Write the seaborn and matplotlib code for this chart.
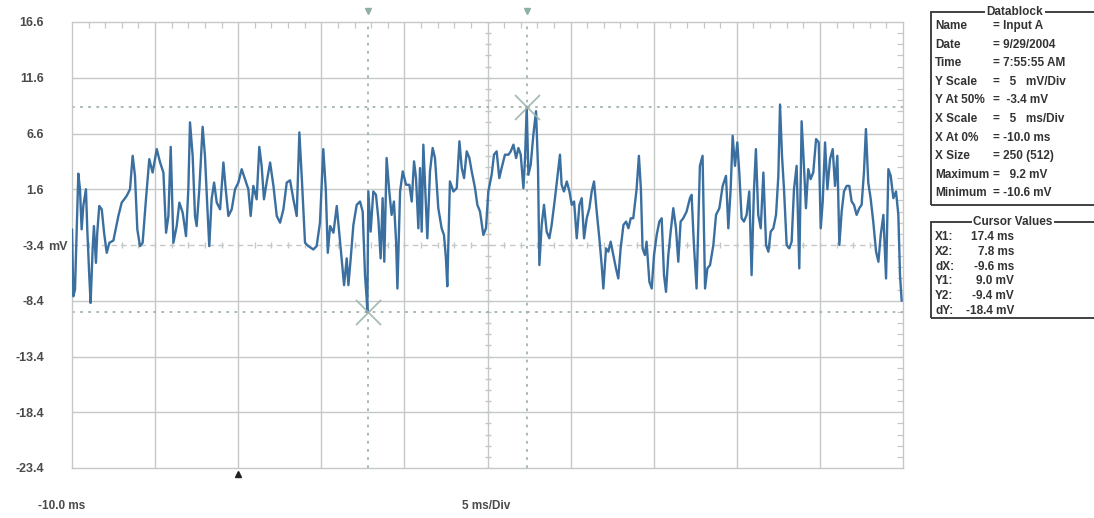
import matplotlib
matplotlib.use("Agg")
from matplotlib import pyplot as plt
from matplotlib.patches import Rectangle
import numpy as np
import pandas as pd
import seaborn as sns

# Datos (tiempo en ms, senal en mV)
time_ms = [
    -10.00, -9.92, -9.82, -9.62, -9.52, -9.42, -9.32, -9.16, -9.08, -8.96,
    -8.88, -8.76, -8.68, -8.56, -8.48, -8.36, -8.21, -8.07, -7.91, -7.75,
    -7.51, -7.21, -7.01, -6.71, -6.51, -6.35, -6.21, -6.07, -5.91, -5.75,
    -5.55, -5.35, -5.15, -4.90, -4.70, -4.50, -4.34, -4.20, -4.06, -3.90,
    -3.70, -3.54, -3.34, -3.14, -3.00, -2.90, -2.74, -2.60, -2.50, -2.34,
    -2.14, -2.00, -1.86, -1.74, -1.60, -1.45, -1.29, -1.09, -0.89, -0.75,
    -0.59, -0.39, -0.19, 0.01, 0.21, 0.41, 0.61, 0.75, 0.91, 1.11,
    1.27, 1.41, 1.55, 1.71, 1.92, 2.12, 2.32, 2.52, 2.72, 2.92,
    3.12, 3.32, 3.52, 3.68, 3.82, 4.02, 4.22, 4.52, 4.72, 4.92,
    5.12, 5.27, 5.39, 5.53, 5.73, 5.93,
    6.37, 6.53, 6.63, 6.77, 6.93, 7.13, 7.33, 7.49, 7.63, 7.73,
    7.77, 7.83, 7.97, 8.13, 8.29, 8.43, 8.57, 8.69, 8.79, 8.93,
    9.09, 9.23, 9.37, 9.50, 9.58, 9.74, 9.90, 10.10, 10.30, 10.44,
    10.58, 10.70, 10.84, 10.94, 11.04, 11.14, 11.26, 11.38, 11.54, 11.70,
    11.84, 12.04, 12.24, 12.38, 12.50, 12.58, 12.74, 12.95, 13.15, 13.31,
    13.45, 13.59, 13.75, 13.91, 14.05, 14.25, 14.39, 14.55, 14.75, 14.91,
    15.05, 15.25, 15.39, 15.55, 15.71, 15.85, 16.05, 16.26, 16.40, 16.56,
    16.72, 16.86, 17.00, 17.16, 17.26, 17.36, 17.46, 17.60, 17.76, 17.92,
    18.04, 18.12, 18.26, 18.40, 18.56, 18.72, 18.86, 19.06, 19.20, 19.36,
    19.46, 19.60, 19.77, 19.93, 20.07, 20.21, 20.37, 20.53, 20.67, 20.81,
    20.97, 21.13, 21.27, 21.41, 21.57, 21.73, 21.87, 21.97, 22.13, 22.27,
    22.41, 22.57, 22.73, 22.87, 23.01, 23.18, 23.34, 23.48, 23.62,
    23.77, 23.97, 24.11, 24.23, 24.33, 24.47, 24.57, 24.74, 24.88, 25.02,
    25.18, 25.34, 25.48, 25.62, 25.74, 25.88, 26.02, 26.18, 26.34, 26.48,
    26.62, 26.78, 26.98, 27.18, 27.28, 27.42, 27.58, 27.78, 27.94, 28.09,
    28.23, 28.39, 28.59, 28.75, 28.95, 29.15, 29.35, 29.49, 29.63, 29.75,
    29.89, 30.03, 30.15, 30.29, 30.43, 30.59, 30.75, 30.89, 31.03, 31.15,
    31.29, 31.44, 31.60, 31.76, 31.90, 32.04, 32.20, 32.36, 32.50, 32.60,
    32.72, 32.84, 33.00, 33.16, 33.30, 33.44, 33.60, 33.76, 33.90, 34.04,
    34.16, 34.30, 34.44, 34.60, 34.77, 34.93, 35.05, 35.17, 35.31, 35.45,
    35.61, 35.77, 35.91, 36.05, 36.17, 36.31, 36.45, 36.61, 36.77, 36.91,
    37.05, 37.21, 37.37, 37.51, 37.65, 37.77, 37.91, 38.05, 38.21, 38.38,
    38.52, 38.66, 38.82, 38.98, 39.12, 39.26, 39.42, 39.58, 39.72, 39.82,
    39.92,
]
signal_mv = [
    -2.0, -8.0, -7.4, 3.0, 1.6, -2.0, 0.1, 1.6, -2.0, -6.2,
    -8.6, -3.8, -1.7, -5.0, -2.3, 0.1, -0.2, -2.3, -4.1, -3.2,
    -3.0, -0.8, 0.4, 1.0, 1.6, 4.6, 2.8, -2.0, -3.5, -3.2,
    0.7, 4.3, 3.1, 5.2, 4.0, 3.1, -2.3, -0.8, 5.4, -3.2,
    -1.7, 0.4, -0.5, -2.6, 1.6, 7.6, 4.6, -0.8, -1.7, 1.6,
    7.2, 4.6, 0.1, -3.5, 0.7, 2.2, 0.4, -0.2, 4.0, 1.6,
    -0.8, -0.2, 1.6, 2.2, 3.4, 2.5, 1.6, -0.8, 1.9, 0.7,
    5.4, 3.7, 0.7, 2.2, 4.0, 1.9, -0.8, -1.4, -0.2, 2.2,
    2.4, 0.7, -0.8, 6.7, 2.8, -3.2, -3.5, -3.8, -3.5, -1.4,
    5.2, 1.6, -4.1, -1.7, -2.3, 0.1,
    -7.0, -4.6, -7.0, -4.6, -1.6, 0.2, 0.5, -0.4, -6.1, -8.2,
    -9.4, 1.4, -2.2, 1.4, 1.1, -1.0, -4.6, 0.8, -4.9, 4.4,
    1.4, -0.7, 0.5, -3.1, -7.3, 1.4, 3.2, 2.0, 2.0, 0.5,
    4.1, 2.6, -1.9, 3.5, -2.2, 5.6, 1.4, -2.8, 3.2, 5.3,
    4.4, -0.1, -1.9, -2.5, -4.6, -7.1, 2.3, 1.4, 1.7, 5.9,
    3.5, 2.6, 5.0, 4.4, 3.2, 1.7, 0.2, -0.4, -2.5, -1.9,
    1.4, 2.9, 4.7, 5.0, 2.6, 3.5, 4.7, 4.7, 5.0, 5.6,
    4.4, 5.3, 4.7, 1.7, 4.4, 9.0, 2.9, 3.8, 6.5, 8.6,
    3.5, -5.2, -1.6, 0.2, -2.2, -2.8, -1.6, 0.8, 2.6, 4.7,
    2.0, 1.4, 2.3, 1.4, 0.2, 0.5, -2.8, 0.2, 0.8, -2.8,
    -1.0, -0.1, 1.4, 2.3, -0.4, -2.8, -5.2, -7.3, -3.7, -4.0,
    -3.1, -4.3, -5.5, -6.4, -3.7, -1.6, -1.3, -1.9, -1.0,
    -1.0, 1.6, 4.6, 1.6, -3.7, -4.3, -3.1, -6.7, -7.3, -4.3,
    -2.5, -1.3, -1.0, -6.1, -7.6, -4.3, -2.2, -0.1, -1.9, -4.9,
    -1.3, -1.0, -0.4, 0.8, 1.1, -3.4, -7.3, 3.7, 4.6, -7.3,
    -5.5, -5.2, -3.4, -0.7, -0.1, 1.9, 2.8, -1.9, 1.6, 6.4,
    3.7, 5.8, 3.1, -1.0, -1.3, -0.7, 1.4, -6.1, 1.4, 5.2,
    -0.7, -1.9, 3.1, -3.4, -4.0, -2.2, -1.9, -0.7, 2.8, 9.2,
    4.6, 1.6, -3.4, -3.7, -3.1, 1.6, 3.7, -5.5, 7.7, 3.7,
    -0.1, 3.4, 2.5, 3.1, 6.1, 5.8, -1.9, 0.5, 5.8, 1.6,
    4.3, 5.2, 1.9, 4.6, -3.4, -0.4, 1.4, 1.9, 1.9, 0.5,
    0.2, -0.7, -0.1, 0.2, 3.1, 7.0, 2.2, 0.8, -1.3, -4.0,
    -4.9, -2.5, -0.7, -6.4, 3.4, 2.8, 0.8, 1.4, -0.7, -6.1,
    -8.4,
]

y_ticks = [16.6, 11.6, 6.6, 1.6, -3.4, -8.4, -13.4, -18.4, -23.4]
y_labels = ["16.6", "11.6", "6.6", "1.6", "-3.4", "-8.4", "-13.4", "-18.4", "-23.4"]
x_divs = [-10, -5, 0, 5, 10, 15, 20, 25, 30, 35, 40]

cursor_x = [17.4, 7.8]
cursor_y = [9.0, -9.4]
trigger_ms = 0.0

datablock = [
    ("Name", "= Input A"),
    ("Date", "= 9/29/2004"),
    ("Time", "= 7:55:55 AM"),
    ("Y Scale", "=   5   mV/Div"),
    ("Y At 50%", "=  -3.4 mV"),
    ("X Scale", "=   5   ms/Div"),
    ("X At 0%", "= -10.0 ms"),
    ("X Size", "= 250 (512)"),
    ("Maximum", "=   9.2 mV"),
    ("Minimum", "= -10.6 mV"),
]
cursor_vals = [
    ("X1:", "17.4 ms"),
    ("X2:", "7.8 ms"),
    ("dX:", "-9.6 ms"),
    ("Y1:", "9.0 mV"),
    ("Y2:", "-9.4 mV"),
    ("dY:", "-18.4 mV"),
]

df = pd.DataFrame({"t": time_ms, "v": signal_mv})

sns.set_style("white")
plt.rcParams["font.family"] = ["Liberation Sans", "DejaVu Sans"]

W, H = 1094, 518
fig = plt.figure(figsize=(W / 100, H / 100), dpi=100)


def fx(x):
    return x / W


def fy(y):
    return 1 - y / H


ax = fig.add_axes([fx(72), fy(468), fx(903) - fx(72), fy(22) - fy(468)])

grid_c = "#c4c8c6"
cur_c = "#9fb4ac"
txt_c = "#4a4a4a"

# rejilla principal
for xv in x_divs[1:-1]:
    ax.axvline(xv, color=grid_c, lw=1.0, zorder=1)
for yv in y_ticks[1:-1]:
    if yv == -3.4:
        ax.axhline(yv, color=grid_c, lw=1.0, ls=(0, (4, 3)), zorder=1)
    else:
        ax.axhline(yv, color=grid_c, lw=1.0, zorder=1)

# marcas menores sobre los ejes centrales
minor_x = np.arange(-10, 40.01, 1.0)
minor_y = np.arange(-23.4, 16.61, 1.0)
ax.plot(minor_x, np.full_like(minor_x, -3.4), ls="none", marker="|",
        ms=5, color=grid_c, mew=1.0, zorder=1)
ax.plot(np.full_like(minor_y, 15.0), minor_y, ls="none", marker="_",
        ms=5, color=grid_c, mew=1.0, zorder=1)

# cursores
for cx in cursor_x:
    ax.axvline(cx, color=cur_c, lw=1.3, ls=(0, (1.5, 3)), zorder=2)
for cy in cursor_y:
    ax.axhline(cy, color=cur_c, lw=1.3, ls=(0, (1.5, 3)), zorder=2)

sns.lineplot(data=df, x="t", y="v", ax=ax, color="#3a6fa0", lw=1.7,
             estimator=None, sort=False, zorder=3)

ax.plot(cursor_x, cursor_y, ls="none", marker="x", ms=18, mew=1.3,
        color=cur_c, zorder=4, alpha=0.9)

# marcas de cursor arriba y disparo abajo
ax.plot(cursor_x, [17.6, 17.6], ls="none", marker="v", ms=5,
        color="#8fb0a2", clip_on=False, zorder=5)
ax.plot([trigger_ms], [-23.9], ls="none", marker="^", ms=5,
        color="#222222", clip_on=False, zorder=5)

ax.set_xlim(-10, 40)
ax.set_ylim(-23.4, 16.6)
ax.set_xlabel("")
ax.set_ylabel("")
ax.set_xticks(x_divs)
ax.set_xticklabels([])
ax.set_xticks(minor_x, minor=True)
ax.set_yticks(y_ticks)
ax.set_yticklabels(y_labels)
ax.set_yticks(minor_y, minor=True)
ax.tick_params(axis="both", which="major", length=0, pad=20,
               labelsize=9, labelcolor=txt_c)
for lab in ax.get_yticklabels():
    lab.set_fontweight("bold")
ax.tick_params(axis="both", which="minor", direction="in", length=4,
               width=0.9, color=grid_c, top=True, right=True)
for s in ax.spines.values():
    s.set_color(grid_c)
    s.set_linewidth(1.0)

fig.text(fx(48), fy(247), "mV", fontsize=9, fontweight="bold",
         color=txt_c, va="center", ha="left")
fig.text(fx(62), fy(506), "-10.0 ms", fontsize=8.5, fontweight="bold",
         color=txt_c, va="center", ha="center")
fig.text(fx(486), fy(506), "5 ms/Div", fontsize=8.5, fontweight="bold",
         color=txt_c, va="center", ha="center")

# bloque de datos
box_c = "#333333"
fs = 8.5
fig.patches.append(Rectangle((fx(931), fy(205)), fx(1200) - fx(931),
                             fy(12) - fy(205), transform=fig.transFigure,
                             fill=False, ec=box_c, lw=1.3))
fig.text(fx(1015), fy(12), "Datablock", fontsize=fs, fontweight="bold",
         color=box_c, va="center", ha="center",
         bbox=dict(fc="white", ec="none", pad=1.0))
row_y = 26
for name, val in datablock:
    fig.text(fx(935), fy(row_y), name, fontsize=fs, fontweight="bold",
             color=box_c, va="center", ha="left")
    fig.text(fx(993), fy(row_y), val, fontsize=fs, fontweight="bold",
             color=box_c, va="center", ha="left")
    row_y += 18.6

fig.patches.append(Rectangle((fx(931), fy(318)), fx(1200) - fx(931),
                             fy(222) - fy(318), transform=fig.transFigure,
                             fill=False, ec=box_c, lw=1.3))
fig.text(fx(1013), fy(222), "Cursor Values", fontsize=fs, fontweight="bold",
         color=box_c, va="center", ha="center",
         bbox=dict(fc="white", ec="none", pad=1.0))
row_y = 237
for name, val in cursor_vals:
    fig.text(fx(935), fy(row_y), name, fontsize=fs, fontweight="bold",
             color=box_c, va="center", ha="left")
    fig.text(fx(1014), fy(row_y), val, fontsize=fs, fontweight="bold",
             color=box_c, va="center", ha="right")
    row_y += 14.8

fig.savefig("out.png", dpi=100)
